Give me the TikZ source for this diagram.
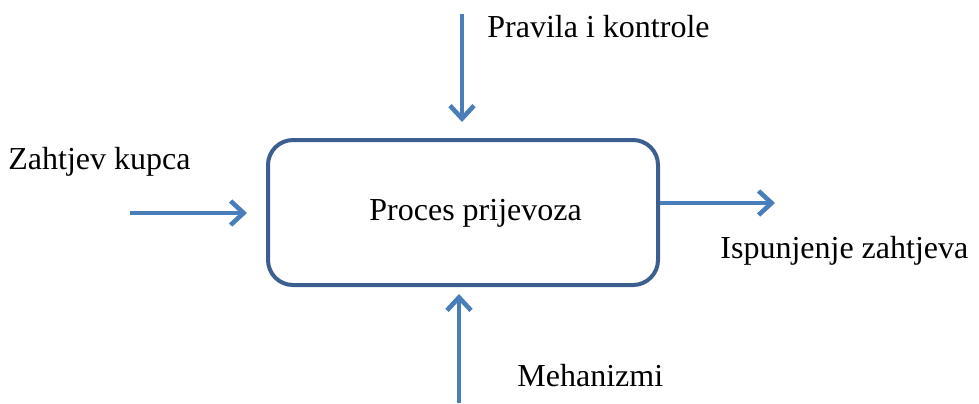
\documentclass[tikz,border=0pt]{standalone}
\usepackage{fontspec}
\setmainfont{Liberation Serif}
\usetikzlibrary{arrows.meta}
\definecolor{boxblue}{HTML}{3C5F8F}
\definecolor{arrowblue}{HTML}{4A7EBB}
\begin{document}
\begin{tikzpicture}[x=0.5pt,y=-0.5pt,
  procbox/.style={draw=boxblue,line width=2pt,rounded corners=12.5pt,minimum width=195pt,minimum height=72.5pt,inner sep=0pt},
  flow/.style={draw=arrowblue,line width=2.3pt,-{Straight Barb[length=6.5pt,width=12pt,line width=2.3pt]}},
  lbl/.style={anchor=base west,inner sep=0pt,font=\fontsize{16}{19}\selectfont}]
\useasboundingbox (0,0) rectangle (979,403);
\node[procbox] (box) at (463,212.5) {};
\node[lbl] (proc) at (369,220) {Proces prijevoza};
\node[lbl] (ctrl) at (487,37) {Pravila i kontrole};
\node[lbl] (inp) at (8,169) {Zahtjev kupca};
\node[lbl] (out) at (720,258) {Ispunjenje zahtjeva};
\node[lbl] (mech) at (517,386) {Mehanizmi};
\coordinate (ctrlA) at (462,14);
\coordinate (ctrlB) at (462,122);
\coordinate (inA) at (130,213);
\coordinate (inB) at (247,213);
\coordinate (outA) at (box.east |- 0,203);
\coordinate (outB) at (775,203);
\coordinate (mechA) at (459,403);
\coordinate (mechB) at (459,294);
\draw[flow] (ctrlA) -- (ctrlB);
\draw[flow] (inA) -- (inB);
\draw[flow] (outA) -- (outB);
\draw[flow] (mechA) -- (mechB);
\end{tikzpicture}
\end{document}
